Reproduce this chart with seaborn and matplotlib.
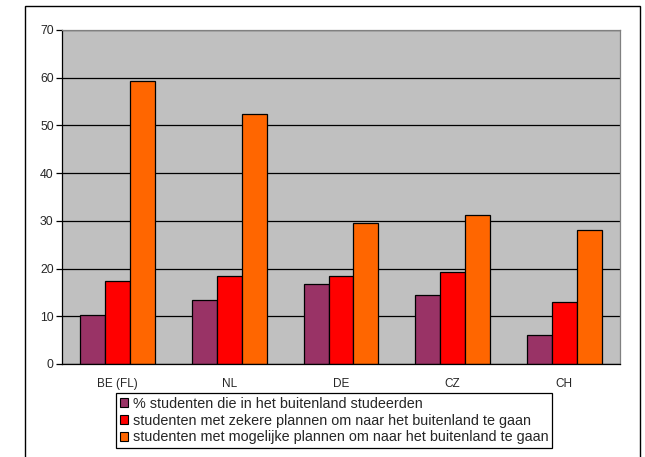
import pandas as pd
import matplotlib.pyplot as plt
import matplotlib.patches as mpatches
import seaborn as sns

sns.set_style("white")
plt.rcParams['font.family'] = ['Liberation Sans', 'DejaVu Sans']

# data
landen = ['BE (FL)', 'NL', 'DE', 'CZ', 'CH']
series = ['% studenten die in het buitenland studeerden',
          'studenten met zekere plannen om naar het buitenland te gaan',
          'studenten met mogelijke plannen om naar het buitenland te gaan']
gestudeerd = [10.3, 13.5, 16.7, 14.4, 6.1]
zekere_plannen = [17.4, 18.4, 18.4, 19.3, 13.0]
mogelijke_plannen = [59.3, 52.3, 29.6, 31.2, 28.1]
kleuren = ['#993366', '#FF0000', '#FF6600']

df = pd.DataFrame({'land': landen * 3,
                   'serie': [s for s in series for _ in landen],
                   'waarde': gestudeerd + zekere_plannen + mogelijke_plannen})

fig = plt.figure(figsize=(6.45, 4.57), dpi=100)
ax = fig.add_axes([62 / 645, 1 - 364 / 457, (620 - 62) / 645, (364 - 30) / 457])
ax.set_facecolor('#C0C0C0')

sns.barplot(data=df, x='land', y='waarde', hue='serie', palette=kleuren,
            width=0.67, gap=0, edgecolor='black', linewidth=0.9,
            saturation=1, ax=ax, legend=False)

ax.set_ylim(0, 70)
ax.set_xlim(-0.5, len(landen) - 0.5)
ax.set_yticks(range(0, 71, 10))
ax.yaxis.grid(True, color='black', linewidth=0.9)
ax.set_axisbelow(True)
ax.set_xlabel('')
ax.set_ylabel('')

# tick marks between the categories, labels in the middle
ax.set_xticks([i + 0.5 for i in range(-1, len(landen))], minor=True)
ax.tick_params(axis='x', which='major', length=0, pad=10, labelsize=8.5)
ax.tick_params(axis='x', which='minor', length=4, width=0.9, direction='out', color='black')
ax.tick_params(axis='y', length=4, width=0.9, direction='out', color='black', labelsize=8.8, pad=2)
ax.tick_params(left=True, bottom=True)

for kant in ['left', 'bottom']:
    ax.spines[kant].set_color('black')
    ax.spines[kant].set_linewidth(0.9)
for kant in ['top', 'right']:
    ax.spines[kant].set_color('#808080')
    ax.spines[kant].set_linewidth(0.9)

handles = [mpatches.Patch(facecolor=k, edgecolor='black', linewidth=0.8) for k in kleuren]
leg = fig.legend(handles, series, loc='upper left',
                 bbox_to_anchor=(116 / 645, 1 - 393 / 457),
                 fontsize=10.4, frameon=True, fancybox=False, framealpha=1,
                 edgecolor='black', borderpad=0.25, labelspacing=0.2,
                 handlelength=0.6, handleheight=0.6, handletextpad=0.3,
                 borderaxespad=0)
leg.get_frame().set_linewidth(0.9)

# outer chart frame
fig.patches.append(mpatches.Rectangle((25 / 645, -0.05), (640 - 25) / 645, 1.05 - 6 / 457,
                                      transform=fig.transFigure, fill=False,
                                      edgecolor='black', linewidth=1))

fig.savefig('out.png', dpi=100)
